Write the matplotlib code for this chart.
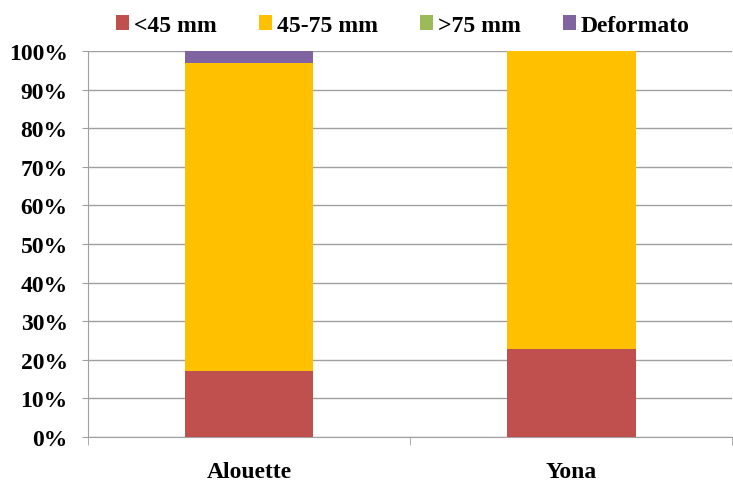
import matplotlib.pyplot as plt
import numpy as np

categories = ['Alouette', 'Yona']
series_names = ['<45 mm', '45-75 mm', '>75 mm', 'Deformato']
lt45 = [17.2, 22.8]
mid = [79.6, 77.2]
gt75 = [0.0, 0.0]
deformato = [3.2, 0.0]
colors = ['#C0504D', '#FFC000', '#9BBB59', '#8064A2']

plt.rcParams['font.family'] = ['Liberation Serif', 'DejaVu Serif']
plt.rcParams['font.weight'] = 'bold'

fig = plt.figure(figsize=(7.33, 4.85), dpi=100)
ax = fig.add_axes([0.12, 0.097, 0.879, 0.796])

x = np.arange(len(categories))
bottom = np.zeros(len(categories))
for name, vals, c in zip(series_names, [lt45, mid, gt75, deformato], colors):
    vals = np.array(vals)
    ax.bar(x, vals, 0.4, bottom=bottom, color=c, label=name, zorder=3)
    bottom += vals

ax.set_xlim(-0.5, 1.5)
ax.set_ylim(0, 100)
ax.set_yticks(np.arange(0, 101, 10))
ax.set_yticklabels([f'{v}%' for v in range(0, 101, 10)], fontsize=17, fontweight='bold')
ax.set_xticks(x)
ax.set_xticklabels(categories, fontsize=17, fontweight='bold')
ax.set_xticks([-0.5, 0.5, 1.5], minor=True)
ax.tick_params(axis='x', which='major', length=0, pad=17)
ax.tick_params(axis='x', which='minor', length=6, color='#A0A0A0', direction='out')
ax.tick_params(axis='y', length=4.5, color='#A0A0A0', direction='out', pad=10)
ax.grid(axis='y', color='#A0A0A0', linewidth=1, zorder=0)
for s in ['top', 'right']:
    ax.spines[s].set_visible(False)
for s in ['left', 'bottom']:
    ax.spines[s].set_color('#A0A0A0')

ax.legend(loc='center', bbox_to_anchor=(0.489, 1.066), ncol=4, frameon=False,
          prop={'size': 17, 'weight': 'bold'}, handlelength=0.55, handleheight=0.55,
          handletextpad=0.2, columnspacing=1.8, borderaxespad=0)

fig.savefig('out.png', dpi=100)
